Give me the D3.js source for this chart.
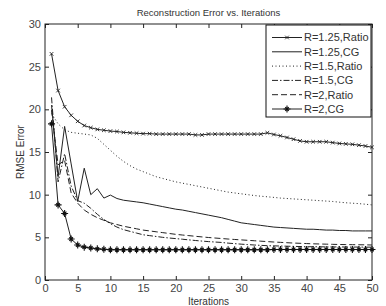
<!DOCTYPE html>
<html><head><meta charset="utf-8">
<script src="https://cdn.jsdelivr.net/npm/d3@7"></script>
<style>
html,body{margin:0;padding:0;background:#fff;}
svg{display:block;font-family:"Liberation Sans",Arial,sans-serif;}
</style></head><body>
<svg id="c" width="386" height="306"></svg>
<script>
const iterations = d3.range(1, 51);
const seriesNames = ["R=1.25,Ratio","R=1.25,CG","R=1.5,Ratio","R=1.5,CG","R=2,Ratio","R=2,CG"];
const r125Ratio = [26.5,22.2,20.3,19.3,18.6,18.1,17.85,17.65,17.55,17.45,17.4,17.3,17.25,17.2,17.15,17.15,17.1,17.1,17.1,17.1,17.1,17.1,17.0,17.0,17.1,17.1,17.1,17.1,17.1,17.1,17.1,17.1,17.1,17.25,17.05,16.9,16.7,16.5,16.3,16.2,16.2,16.2,16.2,16.1,16.0,15.95,15.9,15.8,15.7,15.55];
const r125CG = [20.5,12.1,18.0,13.6,9.2,13.1,10.0,10.7,9.6,9.95,9.55,9.35,9.25,9.15,9.05,8.9,8.75,8.6,8.45,8.3,8.2,8.05,7.9,7.75,7.6,7.45,7.3,7.1,6.9,6.7,6.6,6.5,6.4,6.3,6.2,6.15,6.1,6.05,6.0,5.95,5.95,5.9,5.85,5.85,5.8,5.8,5.75,5.75,5.75,5.75];
const r15Ratio = [19.5,18.3,17.6,17.3,17.2,17.1,17.0,16.6,15.9,15.2,14.5,13.9,13.4,13.0,12.7,12.4,12.1,11.9,11.7,11.5,11.35,11.2,11.05,10.9,10.75,10.6,10.45,10.3,10.2,10.1,10.0,9.9,9.82,9.75,9.68,9.6,9.55,9.5,9.45,9.4,9.35,9.3,9.25,9.2,9.12,9.05,9.0,8.95,8.88,8.8];
const r15CG = [21.4,11.5,14.8,11.0,9.3,9.0,8.4,7.7,7.1,6.6,6.2,5.9,5.7,5.5,5.3,5.2,5.1,5.0,4.92,4.85,4.78,4.7,4.63,4.56,4.5,4.45,4.4,4.32,4.26,4.2,4.15,4.1,4.06,4.02,4.0,3.98,3.96,3.94,3.92,3.9,3.9,3.89,3.88,3.88,3.87,3.87,3.86,3.86,3.85,3.85];
const r2Ratio = [19.9,13.5,14.0,10.2,9.0,8.2,7.7,7.3,7.0,6.7,6.5,6.3,6.15,6.0,5.85,5.75,5.65,5.55,5.45,5.35,5.27,5.2,5.12,5.05,4.98,4.92,4.86,4.8,4.75,4.7,4.65,4.6,4.55,4.5,4.45,4.41,4.37,4.33,4.3,4.27,4.24,4.22,4.2,4.18,4.16,4.15,4.14,4.13,4.12,4.1];
const r2CG = [18.3,8.8,7.8,4.8,4.1,3.85,3.75,3.65,3.6,3.55,3.55,3.55,3.55,3.55,3.55,3.55,3.55,3.55,3.55,3.55,3.55,3.55,3.55,3.55,3.55,3.55,3.55,3.55,3.55,3.55,3.55,3.55,3.55,3.55,3.58,3.58,3.58,3.58,3.58,3.58,3.58,3.58,3.58,3.58,3.58,3.58,3.58,3.58,3.58,3.58];
const xTicks = [0,5,10,15,20,25,30,35,40,45,50];
const yTicks = [0,5,10,15,20,25,30];
const title = "Reconstruction Error vs. Iterations";
const xLabel = "Iterations";
const yLabel = "RMSE Error";

const allSeries = [r125Ratio, r125CG, r15Ratio, r15CG, r2Ratio, r2CG];
const styles = [
  {dash:null, marker:"x"},
  {dash:null, marker:null},
  {dash:"1,2.5", marker:null},
  {dash:"6,2,1.5,2", marker:null},
  {dash:"6,3", marker:null},
  {dash:null, marker:"star"}
];

const svg = d3.select("#c");
const L=45, R=372, T=24, B=280;
const x = d3.scaleLinear().domain([0,50]).range([L,R]);
const y = d3.scaleLinear().domain([0,30]).range([B,T]);

svg.append("rect").attr("x",L).attr("y",T).attr("width",R-L).attr("height",B-T).attr("fill","#fff");

const fs = 11;
const gx = svg.append("g").attr("transform",`translate(0,${B})`)
  .call(d3.axisBottom(x).tickValues(xTicks).tickSizeInner(-4).tickSizeOuter(0).tickPadding(4));
const gy = svg.append("g").attr("transform",`translate(${L},0)`)
  .call(d3.axisLeft(y).tickValues(yTicks).tickSizeInner(-4).tickSizeOuter(0).tickPadding(4));
const gt = svg.append("g").attr("transform",`translate(0,${T})`)
  .call(d3.axisTop(x).tickValues(xTicks).tickSizeInner(-4).tickSizeOuter(0).tickFormat(""));
const gr = svg.append("g").attr("transform",`translate(${R},0)`)
  .call(d3.axisRight(y).tickValues(yTicks).tickSizeInner(-4).tickSizeOuter(0).tickFormat(""));
[gx,gy,gt,gr].forEach(g=>{
  g.select(".domain").remove();
  g.selectAll("line").attr("stroke","#222");
  g.selectAll("text").attr("font-size",fs).attr("fill","#444").attr("font-family","Liberation Sans, Arial, sans-serif");
});
svg.append("rect").attr("x",L).attr("y",T).attr("width",R-L).attr("height",B-T)
  .attr("fill","none").attr("stroke","#222").attr("stroke-width",1);

const line = d3.line().x((d,i)=>x(iterations[i])).y(d=>y(d));
const plot = svg.append("g");

function drawMarker(g, type, cx, cy){
  if(type==="x"){
    const s=1.8;
    g.append("path").attr("d",`M${cx-s},${cy-s}L${cx+s},${cy+s}M${cx-s},${cy+s}L${cx+s},${cy-s}`)
      .attr("stroke","#222").attr("stroke-width",0.9).attr("fill","none");
  } else if(type==="star"){
    const s=3.5, d=1.8;
    g.append("path").attr("d",`M${cx-s},${cy}L${cx+s},${cy}M${cx},${cy-s}L${cx},${cy+s}M${cx-d},${cy-d}L${cx+d},${cy+d}M${cx-d},${cy+d}L${cx+d},${cy-d}`)
      .attr("stroke","#111").attr("stroke-width",1.1).attr("fill","none");
  }
}

allSeries.forEach((vals,k)=>{
  const st=styles[k];
  plot.append("path").datum(vals).attr("d",line)
    .attr("fill","none").attr("stroke","#222").attr("stroke-width",1)
    .attr("stroke-dasharray",st.dash);
  if(st.marker){
    vals.forEach((v,i)=>drawMarker(plot, st.marker, x(iterations[i]), y(v)));
  }
});

// legend
const lg = svg.append("g");
const lx0=266, ly0=25, lw=105, lh=92;
lg.append("rect").attr("x",lx0).attr("y",ly0).attr("width",lw).attr("height",lh)
  .attr("fill","#fff").attr("stroke","#111").attr("stroke-width",1);
seriesNames.forEach((nm,k)=>{
  const cy = 37.5 + k*14.3;
  const st=styles[k];
  lg.append("line").attr("x1",272).attr("x2",302).attr("y1",cy).attr("y2",cy)
    .attr("stroke","#222").attr("stroke-width",1).attr("stroke-dasharray",st.dash);
  if(st.marker) drawMarker(lg, st.marker, 287, cy);
  lg.append("text").attr("x",304).attr("y",cy).attr("dy","0.36em")
    .attr("font-size",11).attr("fill","#333").text(nm);
});

svg.append("text").attr("x",(L+R)/2).attr("y",16).attr("text-anchor","middle")
  .attr("font-size",9.5).attr("fill","#333").text(title);
svg.append("text").attr("x",(L+R)/2).attr("y",305).attr("text-anchor","middle")
  .attr("font-size",10).attr("fill","#333").text(xLabel);
svg.append("text").attr("transform",`translate(24,${(T+B)/2}) rotate(-90)`).attr("text-anchor","middle")
  .attr("font-size",10).attr("fill","#333").text(yLabel);
</script>
</body></html>
